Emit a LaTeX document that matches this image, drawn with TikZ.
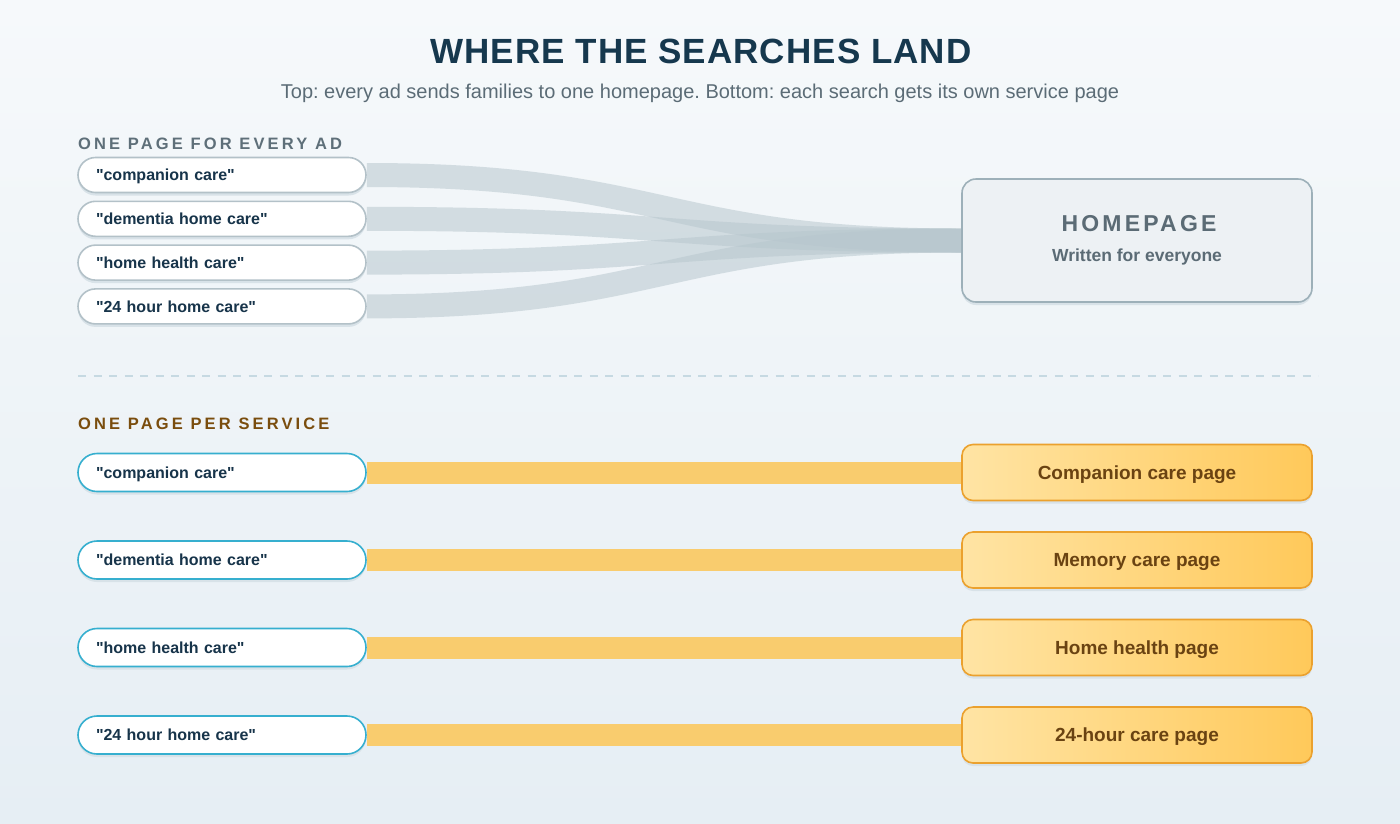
\documentclass[tikz,border=0pt]{standalone}
\usepackage{fontspec}
\setmainfont{Liberation Sans}
\usetikzlibrary{shadows}
\frenchspacing
\definecolor{bgtop}{HTML}{F6F9FB}
\definecolor{bgbot}{HTML}{E6EEF4}
\definecolor{titlec}{HTML}{16384E}
\definecolor{subc}{HTML}{5B6C76}
\definecolor{greylab}{HTML}{5E6F79}
\definecolor{brownlab}{HTML}{7A4D0E}
\definecolor{pilltext}{HTML}{17344A}
\definecolor{pillgrey}{HTML}{B3C1C8}
\definecolor{pillcyan}{HTML}{36AFCF}
\definecolor{shadowc}{HTML}{D8E2E8}
\definecolor{ribbonc}{HTML}{B8C7CE}
\definecolor{hpfill}{HTML}{EDF1F4}
\definecolor{hpdraw}{HTML}{9DB0B9}
\definecolor{hptext}{HTML}{5B6B75}
\definecolor{barc}{HTML}{F9CC6E}
\definecolor{svleft}{HTML}{FFE4A4}
\definecolor{svright}{HTML}{FFC95A}
\definecolor{svdraw}{HTML}{EBA12E}
\definecolor{svtext}{HTML}{6A4312}
\definecolor{dashc}{HTML}{C6D9E2}
\newcommand{\qq}[1]{\textquotedbl#1\textquotedbl}
\pgfdeclarelayer{bg}
\pgfdeclarelayer{links}
\pgfsetlayers{bg,links,main}
\tikzset{
  pillbase/.style={rectangle, fill=white, line width=1.6pt, minimum width=288pt,
    text width=252pt, inner xsep=18pt, inner ysep=0pt, align=left,
    text height=11.5pt, text depth=0pt, font=\fontsize{16}{19}\selectfont\bfseries,
    text=pilltext, general shadow={fill=shadowc, shadow yshift=-3pt}},
  pilltop/.style={pillbase, draw=pillgrey, minimum height=35pt, rounded corners=17.5pt},
  pillbot/.style={pillbase, draw=pillcyan, minimum height=38pt, rounded corners=19pt},
  hpbox/.style={rectangle, rounded corners=14pt, fill=hpfill, draw=hpdraw, line width=1.6pt,
    minimum width=350pt, minimum height=123pt, general shadow={fill=shadowc, shadow yshift=-3pt}},
  svbox/.style={rectangle, rounded corners=11pt, left color=svleft, right color=svright,
    draw=svdraw, line width=1.6pt, minimum width=350pt, minimum height=56pt,
    text height=13.5pt, text depth=0pt, inner ysep=0pt, font=\fontsize{19}{23}\selectfont\bfseries,
    text=svtext, general shadow={fill=shadowc, shadow yshift=-3pt}},
  ribbon/.style={draw=ribbonc, line width=24pt, draw opacity=0.55},
  barlink/.style={draw=barc, line width=22pt},
  seclabel/.style={anchor=base west, inner sep=0pt,
    font=\fontsize{16.5}{19}\selectfont\bfseries\addfontfeature{LetterSpace=19}},
}
\begin{document}
\begin{tikzpicture}[x=1pt,y=-1pt]
\useasboundingbox (0,0) rectangle (1400,823);
\begin{pgfonlayer}{bg}
\shade[top color=bgtop, bottom color=bgbot] (0,0) rectangle (1400,823);
\draw[dashc, line width=1.5pt, dash pattern=on 8pt off 7.5pt] (78,376) -- (1318,376);
\end{pgfonlayer}

\node[anchor=base, font=\fontsize{35}{40}\selectfont\bfseries\addfontfeature{LetterSpace=3}, text=titlec] (title) at (701,63) {WHERE THE SEARCHES LAND};
\node[anchor=base, font=\fontsize{20}{24}\selectfont, text=subc] (subtitle) at (700,98) {Top: every ad sends families to one homepage. Bottom: each search gets its own service page};

\node[seclabel, text=greylab] (lab1) at (78,149) {ONE PAGE FOR EVERY AD};
\node[seclabel, text=brownlab] (lab2) at (78,429) {ONE PAGE PER SERVICE};

% top section
\node[pilltop] (a1) at (222,175) {\qq{companion care}};
\node[pilltop] (a2) at (222,218.8) {\qq{dementia home care}};
\node[pilltop] (a3) at (222,262.6) {\qq{home health care}};
\node[pilltop] (a4) at (222,306.4) {\qq{24 hour home care}};

\node[hpbox] (hp) at (1137,240.5) {};
\node[anchor=base, font=\fontsize{23}{27}\selectfont\bfseries\addfontfeature{LetterSpace=14}, text=hptext] (hpt) at (1139,231.5) {HOMEPAGE};
\node[anchor=base, font=\fontsize{17.5}{20}\selectfont\bfseries, text=hptext] (hps) at (1137,261.5) {Written for everyone};

\begin{pgfonlayer}{links}
\foreach \n in {a1,a2,a3,a4}{
  \draw[ribbon] (\n.east) .. controls +(298,0) and +(-298,0) .. (hp.west);
}
\end{pgfonlayer}

% bottom section
\node[pillbot] (b1) at (222,472.5) {\qq{companion care}};
\node[pillbot] (b2) at (222,560) {\qq{dementia home care}};
\node[pillbot] (b3) at (222,647.5) {\qq{home health care}};
\node[pillbot] (b4) at (222,735) {\qq{24 hour home care}};

\node[svbox] (s1) at (1137,472.5) {Companion care page};
\node[svbox] (s2) at (1137,560) {Memory care page};
\node[svbox] (s3) at (1137,647.5) {Home health page};
\node[svbox] (s4) at (1137,735) {24-hour care page};

\begin{pgfonlayer}{links}
\foreach \i in {1,2,3,4}{
  \draw[barlink] (b\i.east) -- (s\i.west);
}
\end{pgfonlayer}
\end{tikzpicture}
\end{document}
